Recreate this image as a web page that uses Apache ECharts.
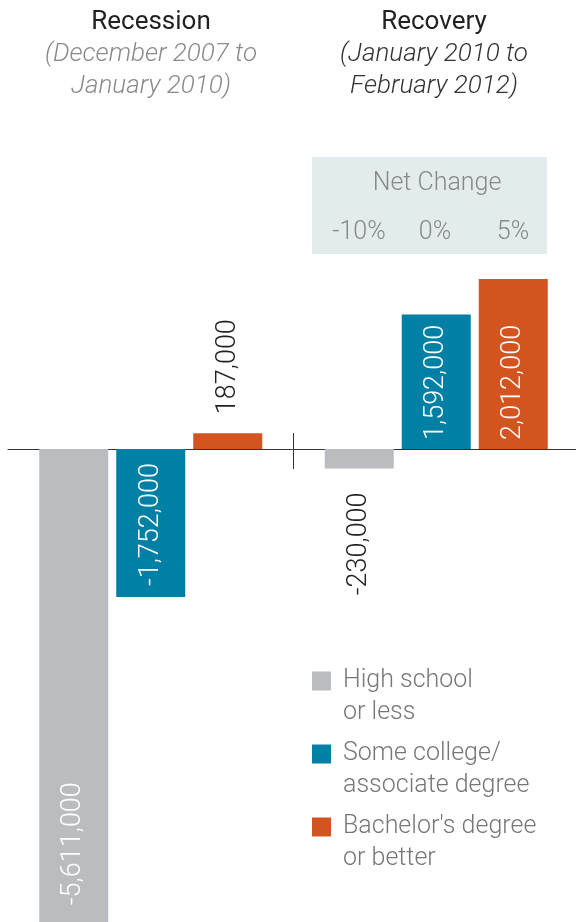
<!DOCTYPE html>
<html>
<head>
<meta charset="utf-8">
<script src="https://cdn.jsdelivr.net/npm/echarts@6/dist/echarts.min.js"></script>
<style>
  html, body { margin: 0; padding: 0; background: #fff; }
  #chart { width: 576px; height: 922px; }
</style>
</head>
<body>
<div id="chart"></div>
<script>
// data
const categories = ['Recession', 'Recovery']
const periods = ['(December 2007 to\nJanuary 2010)', '(January 2010 to\nFebruary 2012)']
const highSchool = [-5611000, -230000]
const someCollege = [-1752000, 1592000]
const bachelors = [187000, 2012000]
const seriesNames = ['High school\nor less', 'Some college/\nassociate degree', 'Bachelor\'s degree\nor better']
const netChangeLabels = ['-10%', '0%', '5%']

const colors = ['#bbbcc0', '#0080a4', '#d2541f']
const font = 'Roboto, "Liberation Sans", sans-serif'

// label placement per bar: inside (white) or outside (dark), and distance from the end
const labelPlacement = [
  [{ inside: true, distance: 18 }, { inside: false, distance: 24 }],
  [{ inside: true, distance: 11 }, { inside: true, distance: 9 }],
  [{ inside: false, distance: 19 }, { inside: true, distance: 9 }]
]

function fmt(v) {
  return v.toLocaleString('en-US')
}

function buildData(values, s) {
  return values.map((v, i) => {
    const p = labelPlacement[s][i]
    let position = 'insideBottom'
    let align = 'left'
    if (!p.inside) {
      position = v < 0 ? 'bottom' : 'top'
      align = v < 0 ? 'right' : 'left'
    }
    return {
      value: v,
      label: {
        show: true,
        position: position,
        distance: p.distance,
        rotate: 90,
        align: align,
        verticalAlign: 'middle',
        color: p.inside ? '#ffffff' : '#222222',
        fontSize: 27,
        fontWeight: 300,
        fontFamily: font,
        formatter: (d) => fmt(d.value)
      }
    }
  })
}

const chart = echarts.init(document.getElementById('chart'), null, { renderer: 'canvas' })

const headerGraphics = []
categories.forEach((c, i) => {
  const cx = i === 0 ? 151 : 434
  headerGraphics.push({
    type: 'text',
    x: cx,
    y: 22,
    style: {
      text: c,
      align: 'center',
      verticalAlign: 'middle',
      fontSize: 26,
      fontFamily: font,
      fill: '#222'
    }
  })
  headerGraphics.push({
    type: 'text',
    x: cx,
    y: 70,
    style: {
      text: periods[i],
      align: 'center',
      verticalAlign: 'middle',
      fontSize: 26,
      lineHeight: 32,
      fontStyle: 'italic',
      fontWeight: 300,
      fontFamily: font,
      fill: i === 0 ? '#8a8a8a' : '#333'
    }
  })
})

// net change box
headerGraphics.push({
  type: 'rect',
  shape: { x: 312, y: 157, width: 235, height: 97 },
  style: { fill: '#e3eced' },
  z: 0
})
headerGraphics.push({
  type: 'text',
  x: 437,
  y: 184,
  style: {
    text: 'Net Change',
    align: 'center',
    verticalAlign: 'middle',
    fontSize: 25,
    fontWeight: 300,
    fontFamily: font,
    fill: '#888'
  },
  z: 1
})
const netX = [359, 435, 513]
netChangeLabels.forEach((t, i) => {
  headerGraphics.push({
    type: 'text',
    x: netX[i],
    y: 233,
    style: {
      text: t,
      align: 'center',
      verticalAlign: 'middle',
      fontSize: 25,
      fontWeight: 300,
      fontFamily: font,
      fill: '#888'
    },
    z: 1
  })
})

const seriesValues = [highSchool, someCollege, bachelors]

// divider tick between the two periods, drawn by hidden value axes
function dividerAxis(position, len) {
  return {
    type: 'value',
    min: 0,
    max: 2,
    position: position,
    axisLine: { show: false, onZero: true, onZeroAxisIndex: 0 },
    axisTick: {
      show: true,
      length: len,
      customValues: [1],
      lineStyle: { color: '#333' }
    },
    axisLabel: { show: false },
    splitLine: { show: false }
  }
}

chart.setOption({
  animation: false,
  textStyle: { fontFamily: font },
  grid: {
    left: 8,
    width: 571,
    top: 195.5,
    height: 760.5,
    containLabel: false,
    outerBoundsMode: 'none'
  },
  legend: {
    orient: 'vertical',
    left: 312,
    top: 633,
    padding: 0,
    itemGap: -23,
    itemWidth: 19,
    itemHeight: 19,
    icon: 'rect',
    selectedMode: false,
    data: seriesNames,
    formatter: (name) => '\n' + name,
    textStyle: {
      fontSize: 25,
      lineHeight: 32,
      fontWeight: 300,
      color: '#777',
      fontFamily: font,
      padding: [0, 0, 0, 7]
    }
  },
  xAxis: [{
    type: 'category',
    data: categories,
    position: 'bottom',
    axisLine: { onZero: true, lineStyle: { color: '#333', width: 1 } },
    axisTick: { show: false },
    axisLabel: { show: false },
    splitLine: { show: false }
  }, dividerAxis('bottom', 20), dividerAxis('top', 16)],
  yAxis: {
    type: 'value',
    min: -6000000,
    max: 3000000,
    show: false,
    splitLine: { show: false }
  },
  series: seriesValues.map((vals, s) => ({
    name: seriesNames[s],
    type: 'bar',
    barWidth: 69,
    barGap: '11.6%',
    itemStyle: { color: colors[s] },
    data: buildData(vals, s)
  })),
  graphic: headerGraphics
})
</script>
</body>
</html>
